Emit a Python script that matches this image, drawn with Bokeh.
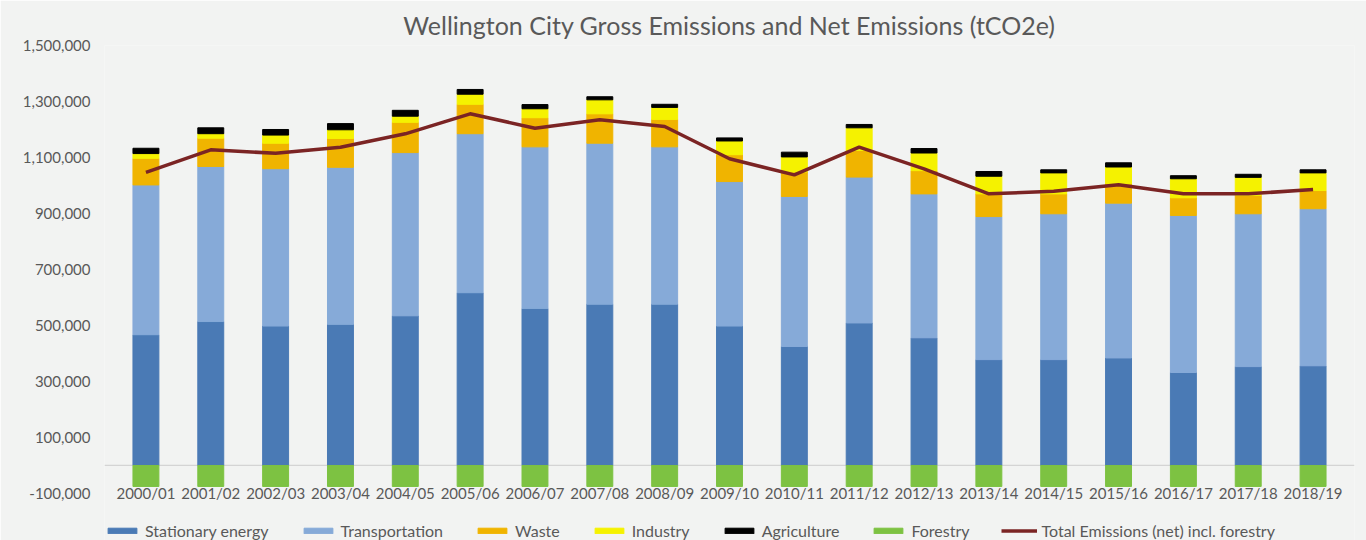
from bokeh.plotting import figure
from bokeh.models import (ColumnDataSource, FixedTicker, NumeralTickFormatter, Span, Legend,
                          LegendItem, Range1d, FactorRange)
from bokeh.core.properties import value
from bokeh.embed import file_html
from bokeh.resources import INLINE

years = ["2000/01", "2001/02", "2002/03", "2003/04", "2004/05", "2005/06", "2006/07",
         "2007/08", "2008/09", "2009/10", "2010/11", "2011/12", "2012/13", "2013/14",
         "2014/15", "2015/16", "2016/17", "2017/18", "2018/19"]
stationary = [467000, 514000, 498000, 504000, 534500, 617000, 561000, 576000, 576000, 498000,
              425000, 509000, 456000, 378000, 378000, 384000, 332000, 353000, 356000]
transport = [535000, 554000, 562000, 561000, 583000, 568000, 577000, 575000, 562000, 516000,
             536000, 521000, 514000, 511000, 521000, 553000, 561000, 546000, 561000]
waste = [95000, 101000, 91000, 103000, 108000, 105000, 104000, 105000, 98000, 96000,
         87000, 95000, 83000, 81000, 71000, 69000, 63000, 66000, 65000]
industry = [17000, 16000, 29000, 31000, 22000, 36000, 32000, 50000, 43000, 49000,
            54000, 81000, 63000, 63000, 75000, 60000, 68000, 64000, 63000]
agriculture = [19000, 21000, 20000, 22000, 21000, 17000, 15000, 11000, 11000, 11000,
               17000, 12000, 16000, 17000, 11000, 15000, 11000, 11000, 11000]
forestry = [-75000] * 19
net_total = [1047000, 1127500, 1115000, 1136800, 1184500, 1256000, 1204600, 1234600, 1210700,
             1095300, 1038000, 1136800, 1059600, 970200, 979600, 1002500, 970200, 970200, 985700]
y_ticks = [-100000, 100000, 300000, 500000, 700000, 900000, 1100000, 1300000, 1500000]

BG = "#f2f3f2"
TXT = "#595959"
FONT = "Lato"
colors = ["#4a7ab5", "#86aad8", "#f0b400", "#f5f200", "#000000"]
GREEN = "#7dc242"
LINE = "#7b2424"

source = ColumnDataSource(dict(year=years, stat=stationary, trans=transport, waste=waste,
                               ind=industry, agr=agriculture, forestry=forestry, net=net_total))

x_range = FactorRange(factors=years, range_padding=0.139, range_padding_units="absolute")
p = figure(x_range=x_range, y_range=Range1d(-268000, 1500000), width=1366, height=540,
           output_backend="svg", toolbar_location=None, x_axis_location=None,
           min_border_left=104, min_border_right=12, min_border_top=45, min_border_bottom=0,
           background_fill_color=BG, border_fill_color=BG, outline_line_color=None)

p.xgrid.visible = False
p.ygrid.visible = False

p.add_layout(Span(location=0, dimension="width", line_color="#d4d4d4", line_width=1.2, level="underlay"))

stack = p.vbar_stack(["stat", "trans", "waste", "ind", "agr"], x="year", width=0.4,
                     color=colors, source=source)
rf = p.vbar(x="year", top="forestry", bottom=0, width=0.4, color=GREEN, source=source)
rl = p.line(x="year", y="net", source=source, line_color=LINE, line_width=3.5, line_join="round")

p.text(x="year", y=-100000, text="year", source=source, text_align="center",
       text_baseline="middle", text_font=value(FONT), text_font_size="15px", text_color=TXT)

yax = p.yaxis[0]
yax.ticker = FixedTicker(ticks=y_ticks)
yax.formatter = NumeralTickFormatter(format="0,0")
yax.axis_line_color = None
yax.major_tick_line_color = None
yax.minor_tick_line_color = None
yax.major_label_standoff = 8
yax.major_label_text_font = FONT
yax.major_label_text_font_size = "15px"
yax.major_label_text_color = TXT

p.title.text = "Wellington City Gross Emissions and Net Emissions (tCO2e)"
p.title.align = "center"
p.title.text_font = FONT
p.title.text_font_size = "25px"
p.title.text_font_style = "normal"
p.title.text_color = TXT
p.title.standoff = 12

labels = ["Stationary energy", "Transportation", "Waste", "Industry", "Agriculture"]
items = [LegendItem(label=l, renderers=[r]) for l, r in zip(labels, stack)]
items.append(LegendItem(label="Forestry", renderers=[rf]))
items.append(LegendItem(label="Total Emissions (net) incl. forestry", renderers=[rl]))
legend = Legend(items=items, orientation="horizontal", location=(0, 0), glyph_width=36,
                glyph_height=7, label_standoff=5, spacing=31, padding=0, margin=0,
                background_fill_alpha=0, border_line_color=None, label_text_font=FONT,
                label_text_font_size="16px", label_text_color=TXT, label_height=20)
p.add_layout(legend)

open("out.html", "w").write(file_html(p, INLINE))
